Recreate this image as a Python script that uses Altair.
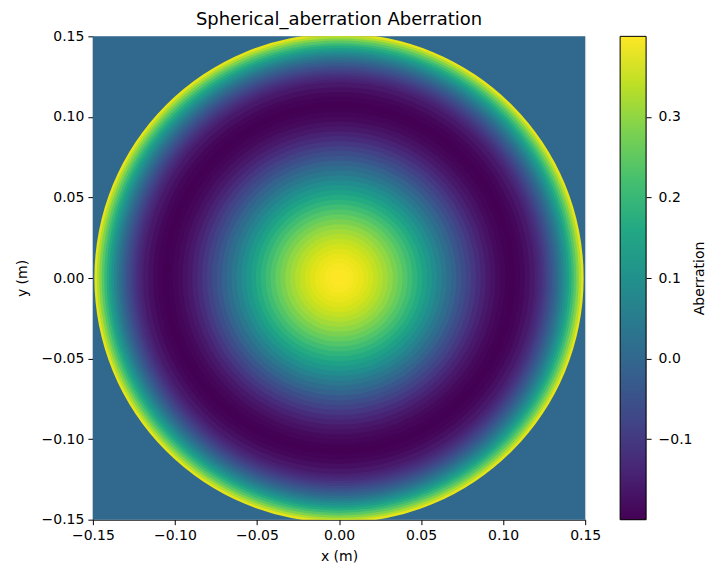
import altair as alt
import pandas as pd

# Radial profile of the aberration.
# Each ring: outer radius (m) and its value; rings are finer towards the rim.
ring_outer = [round(0.003 * (i + 1), 5) for i in range(40)] + \
             [round(0.12 + 0.0015 * (i + 1), 5) for i in range(20)]
ring_values = [0.400, 0.398, 0.394, 0.388, 0.381, 0.371, 0.360, 0.347, 0.333, 0.316,
               0.299, 0.280, 0.259, 0.238, 0.215, 0.192, 0.167, 0.142, 0.116, 0.090,
               0.064, 0.038, 0.012, -0.013, -0.038, -0.062, -0.085, -0.106, -0.126, -0.145,
               -0.161, -0.174, -0.186, -0.194, -0.199, -0.200, -0.197, -0.191, -0.179, -0.163,
               -0.147, -0.135, -0.122, -0.107, -0.090, -0.072, -0.052, -0.031, -0.007, 0.017,
               0.044, 0.073, 0.104, 0.136, 0.171, 0.207, 0.246, 0.287, 0.331, 0.376]
outside_value = 0.0
aperture_radius = 0.15
tick_values = [-0.15, -0.10, -0.05, 0.00, 0.05, 0.10, 0.15]
cbar_ticks = [-0.1, 0.0, 0.1, 0.2, 0.3]
color_domain = [-0.2, 0.4]
viridis_stops = ["#440154", "#482475", "#414487", "#355f8d", "#2a788e", "#21918c",
                 "#22a884", "#44bf70", "#7ad151", "#bddf26", "#fde725"]

# discs drawn from largest to smallest, each covering the inner part of the previous
discs = pd.DataFrame({"x0": 0.0, "y0": 0.0, "r": ring_outer, "v": ring_values})
discs = discs.sort_values("r", ascending=False).reset_index(drop=True)
discs["k"] = range(len(discs))
background = pd.DataFrame({"x0": [-aperture_radius], "x1": [aperture_radius],
                           "y0": [-aperture_radius], "y1": [aperture_radius],
                           "v": [outside_value]})

FONT = "DejaVu Sans"
R_PX = 245
cscale = alt.Scale(scheme="viridis", domain=color_domain)
xscale = alt.Scale(domain=[-0.15, 0.15], nice=False, zero=False)
yscale = alt.Scale(domain=[-0.15, 0.15], nice=False, zero=False)

axis_common = dict(values=tick_values, format=".2f", grid=False, tickColor="black",
                   domainColor="black", tickSize=5, labelPadding=4, labelFontSize=14,
                   titleFontSize=14, labelColor="black", titleColor="black",
                   labelFont=FONT, titleFont=FONT, titleFontWeight="normal",
                   labelFlush=False)

bg = alt.Chart(background).mark_rect().encode(
    x=alt.X("x0:Q", scale=xscale, axis=alt.Axis(title="x (m)", titlePadding=7, **axis_common)),
    x2="x1:Q",
    y=alt.Y("y0:Q", scale=yscale, axis=alt.Axis(title="y (m)", titlePadding=12, **axis_common)),
    y2="y1:Q",
    color=alt.Color("v:Q", scale=cscale, legend=None),
)

# symbol size is the area of the bounding square, so range max = (2 * R_PX)^2
rings = alt.Chart(discs).mark_circle(opacity=1, strokeWidth=0, clip=True).encode(
    x=alt.X("x0:Q", scale=xscale, title="x (m)"),
    y=alt.Y("y0:Q", scale=yscale, title="y (m)"),
    size=alt.Size("r:Q", scale=alt.Scale(type="pow", exponent=2, domain=[0, aperture_radius],
                                         range=[0, (2 * R_PX) ** 2], zero=True),
                  legend=None),
    color=alt.Color("v:Q", scale=cscale, legend=None),
    order=alt.Order("k:Q"),
)

main = alt.layer(bg, rings).properties(
    width=493, height=484,
    title=alt.Title("Spherical_aberration Aberration", font=FONT, fontSize=18,
                    fontWeight="normal", color="black", anchor="middle", offset=0),
)

n = len(viridis_stops)
grad = alt.Gradient(gradient="linear",
                    stops=[alt.GradientStop(offset=i / (n - 1), color=c) for i, c in enumerate(viridis_stops)],
                    x1=0, x2=0, y1=1, y2=0)

cbar = alt.Chart(pd.DataFrame({"lo": [color_domain[0]], "hi": [color_domain[1]]})).mark_rect(
    fill=grad, stroke="black", strokeWidth=1
).encode(
    x=alt.value(0), x2=alt.value(26),
    y=alt.Y("lo:Q", scale=alt.Scale(domain=color_domain, nice=False, zero=False),
            axis=alt.Axis(orient="right", values=cbar_ticks, format=".1f", title="Aberration",
                          titleAngle=270, titlePadding=14, grid=False, tickColor="black",
                          domain=False, tickSize=5, labelPadding=7, labelFontSize=14,
                          titleFontSize=14, labelColor="black", titleColor="black",
                          labelFont=FONT, titleFont=FONT, titleFontWeight="normal")),
    y2="hi:Q",
).properties(width=26, height=484)

chart = alt.hconcat(main, cbar, spacing=17).properties(
    padding={"left": 6, "top": 2, "right": 0, "bottom": 0}
).configure_view(stroke="black", strokeWidth=1).configure(background="white")

chart.save("out.html", embed_options={"renderer": "svg", "actions": False})
